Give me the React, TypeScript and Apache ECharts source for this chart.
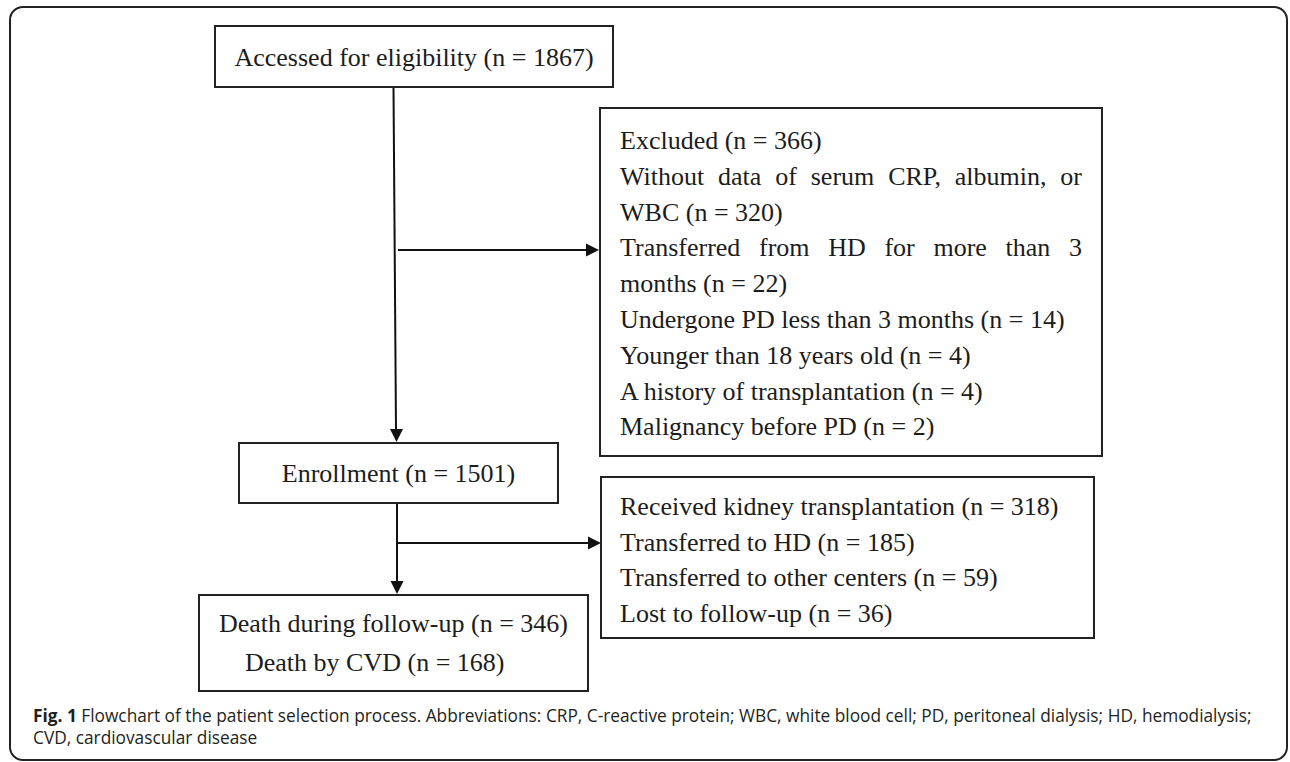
import React, { useEffect, useRef } from "react";
import * as echarts from "echarts";

// ---- content ----
const topBoxLines = ["Accessed for eligibility (n = 1867)"];
const excludedLines = [
  "Excluded (n = 366)",
  "Without data of serum CRP, albumin, or",
  "WBC (n = 320)",
  "Transferred from HD for more than 3",
  "months (n = 22)",
  "Undergone PD less than 3 months (n = 14)",
  "Younger than 18 years old (n = 4)",
  "A history of transplantation (n = 4)",
  "Malignancy before PD (n = 2)",
];
const excludedJustified = [false, true, false, true, false, false, false, false, false];
const enrollmentLines = ["Enrollment (n = 1501)"];
const withdrawnLines = [
  "Received kidney transplantation (n = 318)",
  "Transferred to HD (n = 185)",
  "Transferred to other centers (n = 59)",
  "Lost to follow-up (n = 36)",
];
const deathLines = ["Death during follow-up (n = 346)", "Death by CVD (n = 168)"];
const deathIndents = [0, 26];
const captionLabel = "Fig. 1";
const captionLines = [
  " Flowchart of the patient selection process. Abbreviations: CRP, C-reactive protein; WBC, white blood cell; PD, peritoneal dialysis; HD, hemodialysis;",
  "CVD, cardiovascular disease",
];

const SERIF = "'Liberation Serif', 'Times New Roman', serif";
const SANS = "'Open Sans', 'Noto Sans', sans-serif";
const FS = 26;
const CAP_FS = 17.3;
const INK = "#1c1c1c";

function measure(text: string, font: string): number {
  const c = document.createElement("canvas");
  const ctx = c.getContext("2d");
  if (!ctx) return text.length * 10;
  ctx.font = font;
  return ctx.measureText(text).width;
}

function txt(text: string, x: number, y: number, align: string = "left", extra: any = {}) {
  return {
    type: "text",
    x,
    y,
    silent: true,
    style: {
      text,
      fontSize: FS,
      fontFamily: SERIF,
      fill: INK,
      textAlign: align,
      textVerticalAlign: "middle",
      align,
      verticalAlign: "middle",
      ...extra,
    },
  };
}

function box(x: number, y: number, w: number, h: number) {
  return {
    type: "rect",
    shape: { x, y, width: w, height: h },
    style: { fill: "#ffffff", stroke: "#222", lineWidth: 2 },
  };
}

function line(x1: number, y1: number, x2: number, y2: number) {
  return {
    type: "line",
    shape: { x1, y1, x2, y2 },
    style: { stroke: "#111", lineWidth: 2 },
  };
}

function arrowHead(tx: number, ty: number, dir: "down" | "right") {
  const L = 13;
  const W = 6.5;
  const pts =
    dir === "down"
      ? [[tx, ty], [tx - W, ty - L], [tx + W, ty - L]]
      : [[tx, ty], [tx - L, ty - W], [tx - L, ty + W]];
  return { type: "polygon", shape: { points: pts }, style: { fill: "#111" } };
}

function justifiedLine(text: string, left: number, right: number, y: number) {
  const words = text.split(" ");
  const font = `${FS}px ${SERIF}`;
  const widths = words.map((w) => measure(w, font));
  const total = widths.reduce((a, b) => a + b, 0);
  const gap = (right - left - total) / (words.length - 1);
  const out: any[] = [];
  let x = left;
  words.forEach((w, i) => {
    out.push(txt(w, x, y));
    x += widths[i] + gap;
  });
  return out;
}

export default function App() {
  const ref = useRef<HTMLDivElement>(null);

  useEffect(() => {
    document.body.style.margin = "0";
    if (!ref.current) return;
    const chart = echarts.init(ref.current, undefined, { renderer: "svg" });

    const els: any[] = [];

    // outer frame
    els.push({
      type: "rect",
      shape: { x: 10, y: 7, width: 1277, height: 753, r: 13 },
      style: { fill: "none", stroke: "#222", lineWidth: 2 },
    });

    // connectors
    els.push(line(393.5, 87, 396, 430));
    els.push(arrowHead(396.5, 442, "down"));
    els.push(line(398, 250, 588, 250));
    els.push(arrowHead(599, 250, "right"));
    els.push(line(397, 503, 397, 582));
    els.push(arrowHead(397, 594, "down"));
    els.push(line(397, 543, 590, 543));
    els.push(arrowHead(601, 543, "right"));

    // boxes
    els.push(box(215, 26, 398, 61));
    topBoxLines.forEach((t) => els.push(txt(t, 414, 57, "center")));

    els.push(box(600, 108, 502, 348));
    const exTop = 140.5;
    const exStep = 35.8;
    excludedLines.forEach((t, i) => {
      const y = exTop + i * exStep;
      if (excludedJustified[i]) justifiedLine(t, 620, 1082, y).forEach((e) => els.push(e));
      else els.push(txt(t, 620, y));
    });

    els.push(box(239, 443, 319, 60));
    enrollmentLines.forEach((t) => els.push(txt(t, 398.5, 473.5, "center")));

    els.push(box(601, 477, 493, 161));
    withdrawnLines.forEach((t, i) => els.push(txt(t, 620, 506.5 + i * 35.6)));

    els.push(box(199, 595, 389, 96));
    deathLines.forEach((t, i) => els.push(txt(t, 219 + deathIndents[i], 623.5 + i * 39)));

    // caption
    els.push({
      type: "text",
      x: 33,
      y: 715,
      silent: true,
      style: {
        text: `{b|${captionLabel}}{r|${captionLines[0]}}`,
        fill: "#231f20",
        textVerticalAlign: "middle",
        verticalAlign: "middle",
        rich: {
          b: { fontFamily: SANS, fontSize: CAP_FS, fontWeight: "bold", fill: "#231f20" },
          r: { fontFamily: SANS, fontSize: CAP_FS, fill: "#231f20" },
        },
      },
    });
    els.push({
      type: "text",
      x: 33,
      y: 737,
      silent: true,
      style: {
        text: captionLines[1],
        fontFamily: SANS,
        fontSize: CAP_FS,
        fill: "#231f20",
        textVerticalAlign: "middle",
        verticalAlign: "middle",
      },
    });

    chart.setOption({
      animation: false,
      backgroundColor: "#ffffff",
      graphic: { elements: els },
    });

    return () => chart.dispose();
  }, []);

  return <div ref={ref} style={{ width: 1290, height: 762 }} />;
}
